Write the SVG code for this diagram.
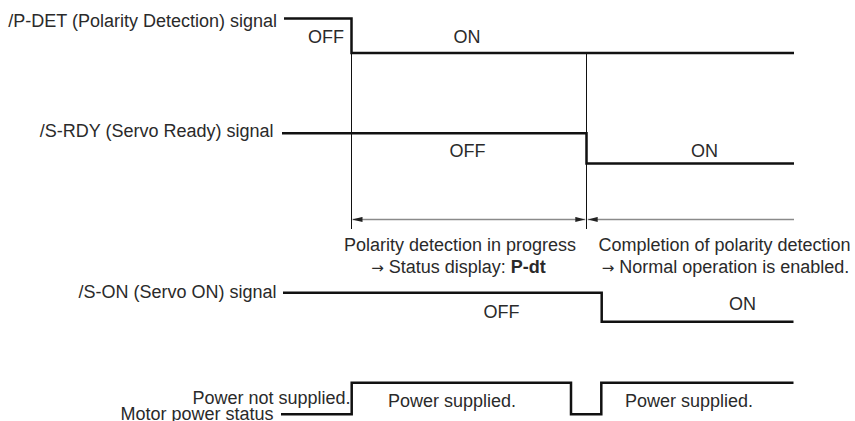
<svg xmlns="http://www.w3.org/2000/svg" width="855" height="421" viewBox="0 0 855 421">
  <style>
    text { font-family: "Liberation Sans", Arial, sans-serif; font-size: 18px; fill: #2a2a2a; }
    .arr { font-family: "DejaVu Sans", sans-serif; font-size: 15px; }
    .sig { fill: none; stroke: #111; stroke-width: 2.5; stroke-linejoin: miter; }
    .thin { fill: none; stroke: #111; stroke-width: 1; }
    .dim { fill: none; stroke: #8a8a8a; stroke-width: 1.4; }
    .end { text-anchor: end; }
    .mid { text-anchor: middle; }
  </style>
  <defs>
    <marker id="ah" viewBox="0 0 10 6" markerWidth="10" markerHeight="6" refX="10" refY="3" markerUnits="userSpaceOnUse" orient="auto-start-reverse">
      <path d="M0,0.4 L10,3 L0,5.6 Z" fill="#222"/>
    </marker>
  </defs>
  <rect width="855" height="421" fill="#ffffff"/>

  <g id="pdet">
    <text class="end" x="277" y="26.5">/P-DET (Polarity Detection) signal</text>
    <path class="sig" d="M284,18.5 H351.5 V53 H794"/>
    <text class="end" x="344" y="42.7">OFF</text>
    <text class="mid" x="467" y="42.7">ON</text>
  </g>

  <g id="srdy">
    <text class="end" x="273.5" y="136.5">/S-RDY (Servo Ready) signal</text>
    <path class="sig" d="M282,133.3 H586.5 V163.5 H794"/>
    <text class="mid" x="467.5" y="156.5">OFF</text>
    <text class="mid" x="704.5" y="156.5">ON</text>
  </g>

  <g id="markers">
    <path class="thin" d="M351.5,53 V229"/>
    <path class="thin" d="M586.5,53 V229"/>
  </g>

  <g id="connectors">
    <line class="dim" x1="352.5" y1="219.5" x2="585.3" y2="219.5" marker-start="url(#ah)" marker-end="url(#ah)"/>
    <line class="dim" x1="587.7" y1="219.5" x2="794" y2="219.5" marker-start="url(#ah)"/>
  </g>

  <g id="phase1">
    <text class="mid" x="460" y="251">Polarity detection in progress</text>
    <text class="mid" x="458.5" y="272.5"><tspan class="arr">→</tspan> Status display: <tspan font-weight="bold">P-dt</tspan></text>
  </g>

  <g id="phase2">
    <text class="mid" x="724.5" y="251">Completion of polarity detection</text>
    <text class="mid" x="725.5" y="272.5"><tspan class="arr">→</tspan> Normal operation is enabled.</text>
  </g>

  <g id="son">
    <text class="end" x="276.5" y="298">/S-ON (Servo ON) signal</text>
    <path class="sig" d="M283,292.7 H601.7 V321.7 H793.5"/>
    <text class="mid" x="501.5" y="318.3">OFF</text>
    <text class="mid" x="742.5" y="310">ON</text>
  </g>

  <g id="motor">
    <text class="end" x="350.5" y="403.5">Power not supplied.</text>
    <text class="end" x="273.5" y="419.5">Motor power status</text>
    <path class="sig" d="M281,414.3 H351.7 V382.7 H571 V414.3 H601.3 V382.7 H793.5"/>
    <text class="mid" x="452" y="406.5">Power supplied.</text>
    <text class="mid" x="689" y="406.5">Power supplied.</text>
  </g>
</svg>
